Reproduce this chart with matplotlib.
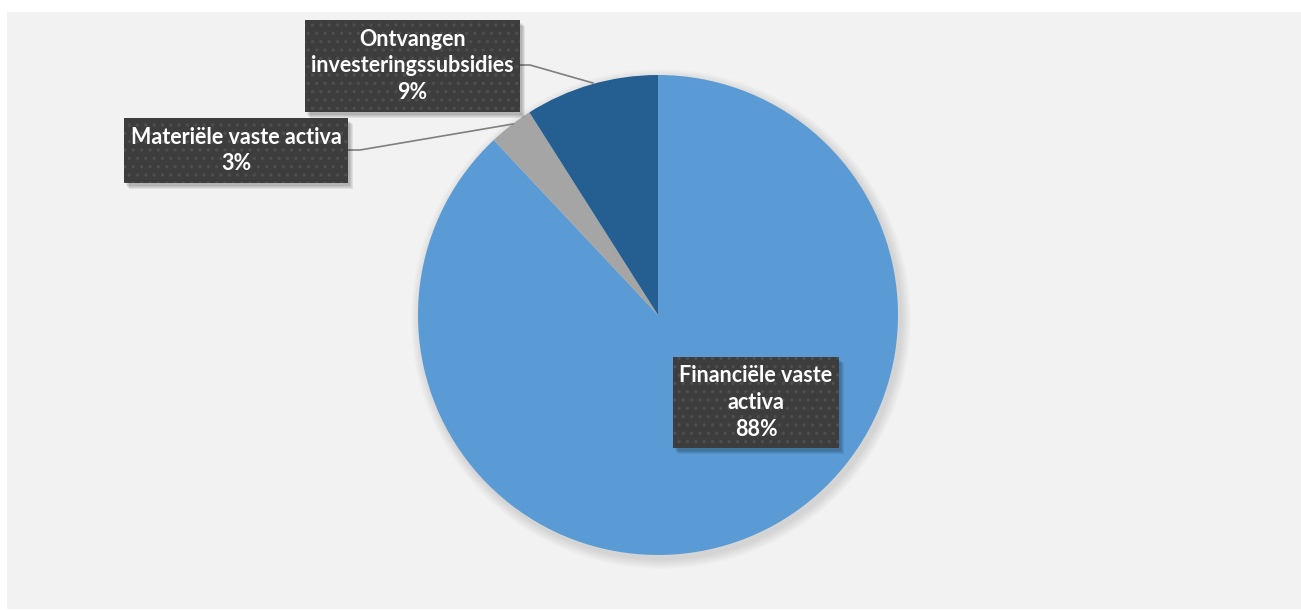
import matplotlib.pyplot as plt
from matplotlib.patches import Rectangle, Circle

# chart data
labels = ["Financiële vaste activa", "Materiële vaste activa", "Ontvangen investeringssubsidies"]
values = [88, 3, 9]
colors = ["#5B9BD5", "#A5A5A5", "#255E91"]

# label text as wrapped in the boxes
box_text = ["Financiële vaste\nactiva", "Materiële vaste activa", "Ontvangen\ninvesteringssubsidies"]

W, H = 1301, 610


def py(y):
    # pixel row (from top) -> data y
    return H - y


fig = plt.figure(figsize=(W / 100, H / 100), dpi=100)
fig.patch.set_facecolor("white")
ax = fig.add_axes([0, 0, 1, 1])
ax.set_xlim(0, W)
ax.set_ylim(0, H)
ax.set_aspect("equal")
ax.axis("off")

# chart area background
ax.add_patch(Rectangle((7, py(609)), W - 7, 597, facecolor="#F2F2F2", edgecolor="none", zorder=0))

cx, cy, r = 658, py(315), 240

# soft shadow under the pie
for i in range(10):
    ax.add_patch(Circle((cx + 3, cy - 4), r + 10 - i, facecolor="black", alpha=0.012,
                        edgecolor="none", zorder=1))

ax.pie(values, colors=colors, startangle=90, counterclock=False, center=(cx, cy), radius=r,
       wedgeprops=dict(linewidth=0), frame=True)
ax.set_xlim(0, W)
ax.set_ylim(0, H)
ax.axis("off")

# leader lines (pixel coords)
leaders = {
    1: [(348, 150), (360, 150), (513, 124)],
    2: [(520, 65), (530, 65), (593, 83)],
}
for k, pts in leaders.items():
    ax.plot([p[0] for p in pts], [py(p[1]) for p in pts], color="#7F7F7F", lw=1.2, zorder=3)

# label boxes: left, top, right, bottom in pixels
boxes = {
    0: (673, 357, 839, 448),
    1: (124, 118, 348, 183),
    2: (305, 20, 520, 112),
}
plt.rcParams["hatch.linewidth"] = 1.2
for k, (l, t, rr, b) in boxes.items():
    for i in range(4):
        ax.add_patch(Rectangle((l + 2 + i, py(b) - 3 - i), rr - l, b - t, facecolor="black",
                               alpha=0.07, edgecolor="none", zorder=4))
    ax.add_patch(Rectangle((l, py(b)), rr - l, b - t, facecolor="#3D3D3D", edgecolor="#4E4E4E",
                           hatch="..", lw=0, zorder=5))
    txt = f"{box_text[k]}\n{values[k]}%"
    ax.text((l + rr) / 2, py((t + b) / 2), txt, ha="center", va="center", color="white",
            fontsize=15.5, fontweight="bold", family=["Lato", "DejaVu Sans"], linespacing=1.35,
            zorder=6)

fig.savefig("out.png", dpi=100, facecolor=fig.get_facecolor())
